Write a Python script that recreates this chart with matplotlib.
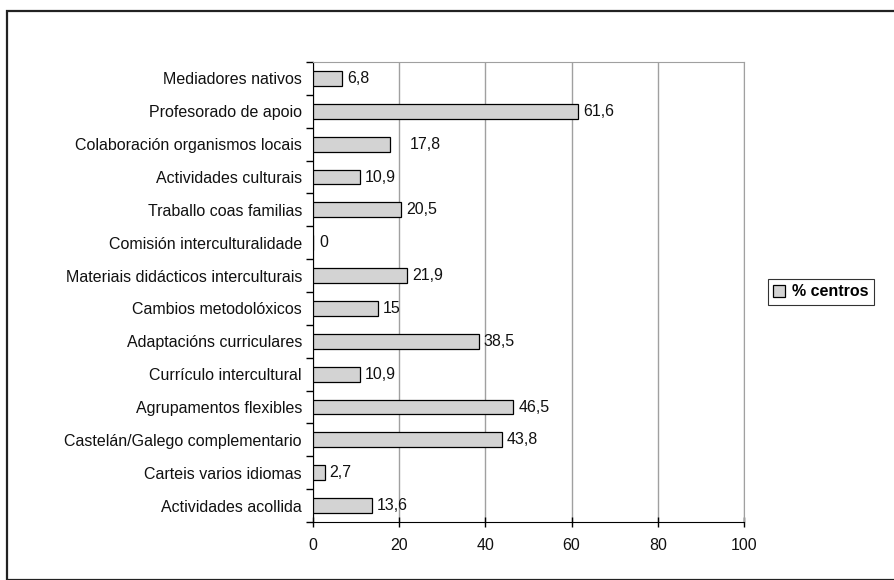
import matplotlib.pyplot as plt
from matplotlib.patches import Rectangle
from matplotlib.ticker import FixedLocator, NullFormatter

plt.rcParams['font.family'] = ['Liberation Sans', 'DejaVu Sans']

# datos (de arriba a abaixo)
categories = [
    'Mediadores nativos', 'Profesorado de apoio', 'Colaboración organismos locais',
    'Actividades culturais', 'Traballo coas familias', 'Comisión interculturalidade',
    'Materiais didácticos interculturais', 'Cambios metodolóxicos',
    'Adaptacións curriculares', 'Currículo intercultural', 'Agrupamentos flexibles',
    'Castelán/Galego complementario', 'Carteis varios idiomas', 'Actividades acollida',
]
values = [6.8, 61.6, 17.8, 10.9, 20.5, 0, 21.9, 15, 38.5, 10.9, 46.5, 43.8, 2.7, 13.6]
value_labels = ['6,8', '61,6', '17,8', '10,9', '20,5', '0', '21,9', '15',
                '38,5', '10,9', '46,5', '43,8', '2,7', '13,6']
# desprazamento extra da etiqueta (en puntos)
label_nudge = [0, 0, 11, 0, 0, 1, 0, 0, 0, 0, 0, 0, 0, 0]
x_ticks = [0, 20, 40, 60, 80, 100]

FS = 11.5

fig = plt.figure(figsize=(8.95, 5.8), dpi=100)
ax = fig.add_axes([313 / 895, 58 / 580, 431 / 895, 460 / 580])

n = len(categories)
ypos = list(range(n))[::-1]

ax.barh(ypos, values, height=0.45, color='#d3d3d3', edgecolor='black',
        linewidth=0.9, label='% centros', zorder=3)

for y, v, lab, nd in zip(ypos, values, value_labels, label_nudge):
    ax.annotate(lab, xy=(v, y), xytext=(3.5 + nd, 0), textcoords='offset points',
                va='center', ha='left', fontsize=FS, color='#111111', zorder=4)

ax.set_xlim(0, 100)
ax.set_ylim(-0.5, n - 0.5)
ax.set_xticks(x_ticks)
ax.set_xticklabels([str(t) for t in x_ticks], fontsize=FS)
ax.set_yticks(ypos)
ax.set_yticklabels(categories, fontsize=FS, color='#111111')
ax.tick_params(axis='y', length=0, pad=8)
ax.tick_params(axis='x', direction='inout', length=7, width=1, pad=8, labelcolor='#111111')
ax.yaxis.set_minor_locator(FixedLocator([i - 0.5 for i in range(n + 1)]))
ax.yaxis.set_minor_formatter(NullFormatter())
ax.tick_params(axis='y', which='minor', direction='out', length=5, width=1)

ax.grid(axis='x', color='#a0a0a0', linewidth=1, zorder=0)
ax.spines['left'].set_color('black')
ax.spines['bottom'].set_color('black')
ax.spines['top'].set_color('#a0a0a0')
ax.spines['right'].set_color('#a0a0a0')

leg = ax.legend(loc='center left', bbox_to_anchor=(1.055, 0.5), frameon=True,
                fancybox=False, edgecolor='black', prop={'weight': 'bold', 'size': FS},
                handlelength=0.75, handleheight=0.75, handletextpad=0.4,
                borderpad=0.35, borderaxespad=0)
leg.get_frame().set_linewidth(0.8)

# marco exterior do gráfico
fig.patches.append(Rectangle((7 / 895, 0), 1.0, 1 - 11 / 580, transform=fig.transFigure,
                             fill=False, edgecolor='#222222', linewidth=1.6))

fig.savefig('out.png', dpi=100)
